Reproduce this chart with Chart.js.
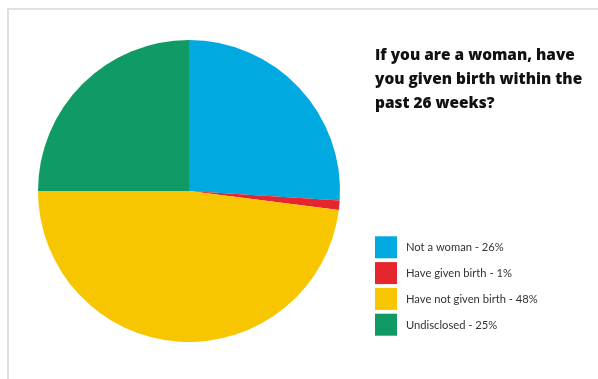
<!DOCTYPE html>
<html>
<head>
<meta charset="utf-8">
<style>
  html, body { margin: 0; padding: 0; background: #ffffff; }
  #wrap { position: relative; width: 598px; height: 379px; }
</style>
<script src="https://cdn.jsdelivr.net/npm/chart.js@4/dist/chart.umd.min.js"></script>
</head>
<body>
<div id="wrap"><canvas id="chart" width="598" height="379"></canvas></div>
<script>
// Survey answers and their shares (percent)
const categories = ['Not a woman', 'Have given birth', 'Have not given birth', 'Undisclosed'];
const shares = [26, 1, 48, 25];
const colors = ['#00A9E0', '#E5262E', '#F8C600', '#0F9A66'];
const titleLines = ['If you are a woman, have', 'you given birth within the', 'past 26 weeks?'];

// Frame lines, title and the legend are painted around the pie
const decorations = {
  id: 'decorations',
  beforeDraw(chart) {
    const ctx = chart.ctx;
    ctx.save();
    ctx.fillStyle = '#ffffff';
    ctx.fillRect(0, 0, chart.width, chart.height);
    ctx.fillStyle = '#e1e1e1';
    ctx.fillRect(7, 8, chart.width - 7, 2);
    ctx.fillRect(7, 8, 2, chart.height - 8);
    ctx.restore();
  },
  afterDraw(chart) {
    const ctx = chart.ctx;
    ctx.save();
    // Title
    ctx.fillStyle = '#111111';
    ctx.textBaseline = 'alphabetic';
    ctx.textAlign = 'left';
    ctx.font = '800 15.4px "Open Sans"';
    const titleY = [60, 84, 108];
    titleLines.forEach((line, i) => {
      ctx.fillText(line, 375, titleY[i]);
    });
    // Legend
    ctx.font = '11.2px "Lato"';
    ctx.textBaseline = 'middle';
    const top = 236.3, step = 25.8, box = 22;
    categories.forEach((cat, i) => {
      const y = top + i * step;
      ctx.fillStyle = colors[i];
      ctx.fillRect(375, y, box, box);
      ctx.fillStyle = '#333333';
      ctx.fillText(cat + ' - ' + shares[i] + '%', 406, y + box / 2 + 0.5);
    });
    ctx.restore();
  }
};

new Chart(document.getElementById('chart'), {
  type: 'pie',
  data: {
    labels: categories,
    datasets: [{
      data: shares,
      backgroundColor: colors,
      borderWidth: 0
    }]
  },
  options: {
    responsive: false,
    animation: false,
    layout: { padding: { left: 38, top: 40, right: 258, bottom: 37 } },
    plugins: {
      legend: { display: false },
      title: { display: false },
      tooltip: { enabled: false }
    }
  },
  plugins: [decorations]
});
</script>
</body>
</html>
